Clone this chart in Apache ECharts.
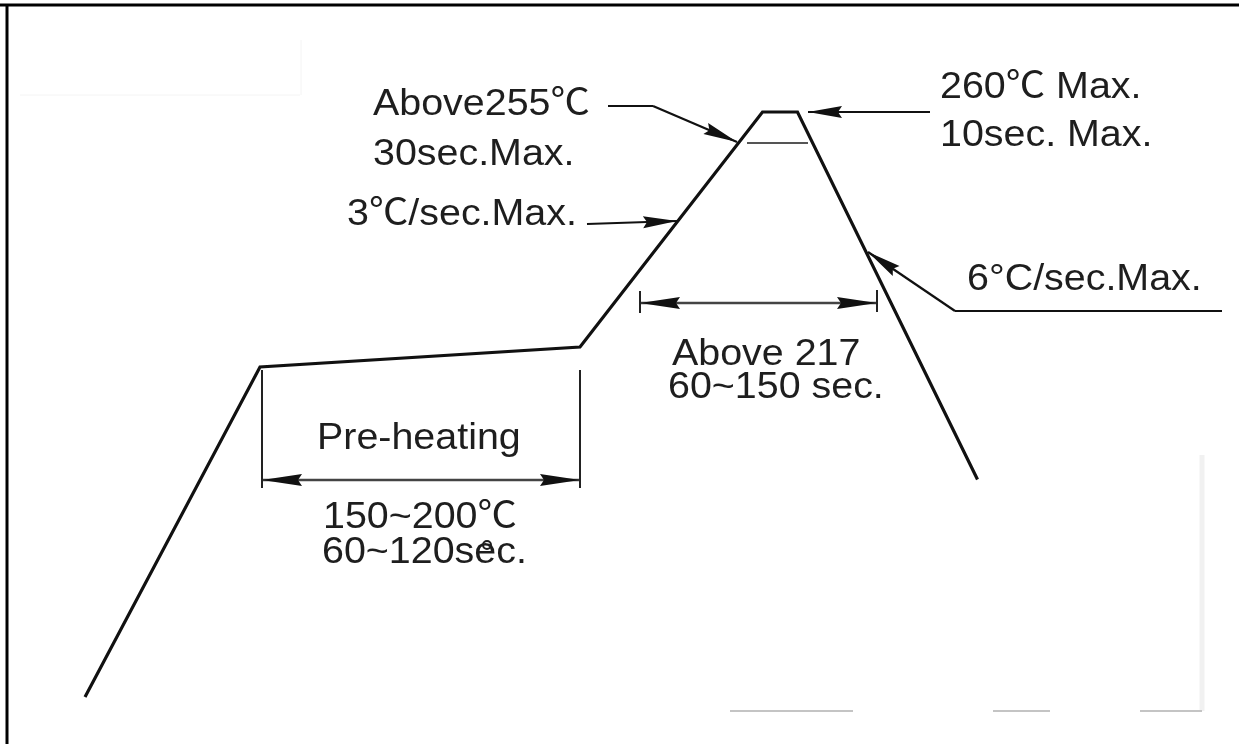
<!DOCTYPE html>
<html>
<head>
<meta charset="utf-8">
<title>Reflow profile</title>
<script src="https://cdn.jsdelivr.net/npm/echarts@6/dist/echarts.min.js"></script>
<style>
	html, body { margin: 0; padding: 0; background: #fff; }
	#chart { width: 1239px; height: 744px; }
</style>
</head>
<body>
<div id="chart"></div>
<script>
/**
 * 数据 (示意图, 单位: 时间 / 温度, 非等比例)
 */
// 回流焊温度曲线
var profileTime = [0, 70, 198, 271, 285, 357];
var profileTemp = [26, 158, 166, 260, 260, 113];

// 引线(黑色)  [x1, y1, x2, y2, 起点箭头, 终点箭头]
var leaderLines = [
	[209.2, 262.4, 227.2, 262.4, 0, 0],// Above255
	[227.2, 262.4, 260.8, 248.0, 0, 1],
	[338.0, 260.0, 289.2, 260.0, 0, 1],// 260 Max
	[200.8, 215.2, 236.8, 216.4, 0, 1],// 3/sec
	[454.8, 180.4, 348.0, 180.4, 0, 0],// 6/sec
	[348.0, 180.4, 313.2, 204.0, 0, 1]
];
// 尺寸线(双箭头)
var dimLines = [
	[222.0, 183.6, 316.8, 183.6, 1, 1],// Above 217
	[70.8, 112.8, 198.0, 112.8, 1, 1]// Pre-heating
];
// 尺寸界线
var tickLines = [
	[222.0, 188.4, 222.0, 179.6, 0, 0],
	[316.8, 188.8, 316.8, 180.0, 0, 0],
	[70.8, 156.8, 70.8, 109.6, 0, 0],
	[198.0, 156.8, 198.0, 109.6, 0, 0]
];
// 峰值处短线
var peakLines = [
	[264.8, 247.6, 289.2, 247.6, 0, 0]
];

// 文字
var labelTexts = [
	'Above255℃', '30sec.Max.', '3℃/sec.Max.',
	'260℃ Max.', '10sec. Max.', '6°C/sec.Max.',
	'Above 217', '60~150 sec.',
	'Pre-heating', '150~200℃', '60~120sec.'
];

var FONT = '"Liberation Sans", Arial, "Noto Sans CJK SC", sans-serif';
var FONT_SIZE = 37;

/**
 * 线段 + 箭头
 */
function segmentRenderer(color, width, headLen, headHalf, headColor) {
	return function (params, api) {
		var p1 = api.coord([api.value(0), api.value(1)]);
		var p2 = api.coord([api.value(2), api.value(3)]);
		var children = [{
			type: 'line',
			shape: {x1: p1[0], y1: p1[1], x2: p2[0], y2: p2[1]},
			style: {stroke: color, lineWidth: width, lineCap: 'butt'}
		}];
		function head(tip, from) {
			var dx = tip[0] - from[0], dy = tip[1] - from[1];
			var len = Math.sqrt(dx * dx + dy * dy) || 1;
			dx /= len; dy /= len;
			var bx = tip[0] - dx * headLen, by = tip[1] - dy * headLen;
			var nx = -dy * headHalf, ny = dx * headHalf;
			children.push({
				type: 'polygon',
				shape: {points: [[tip[0], tip[1]], [bx + nx, by + ny], [bx + dx * 4, by + dy * 4], [bx - nx, by - ny]]},
				style: {fill: headColor || color}
			});
		}
		if (api.value(4)) head(p1, p2);
		if (api.value(5)) head(p2, p1);
		return {type: 'group', children: children};
	};
}

// 文字位置 (左, 基线)
var textPos = [
	[373, 117], [373, 167], [347, 227],
	[940, 100], [940, 148], [967, 292],
	[672, 367], [668, 400],
	[317, 451], [323, 530], [322, 565]
];

var graphics = [];
// 边框(上, 左)
graphics.push({type: 'line', shape: {x1: 0, y1: 5, x2: 1239, y2: 5}, style: {stroke: '#000', lineWidth: 3}});
graphics.push({type: 'line', shape: {x1: 7, y1: 4, x2: 7, y2: 744}, style: {stroke: '#000', lineWidth: 3}});
// 扫描残影
graphics.push({type: 'line', shape: {x1: 20, y1: 95, x2: 300, y2: 95}, style: {stroke: '#f4f4f4', lineWidth: 1}});
graphics.push({type: 'line', shape: {x1: 301, y1: 40, x2: 301, y2: 95}, style: {stroke: '#f4f4f4', lineWidth: 1}});
graphics.push({type: 'line', shape: {x1: 1202, y1: 455, x2: 1202, y2: 711}, style: {stroke: '#f1f1f1', lineWidth: 5}});
graphics.push({type: 'line', shape: {x1: 730, y1: 711, x2: 853, y2: 711}, style: {stroke: '#c4c4c4', lineWidth: 2}});
graphics.push({type: 'line', shape: {x1: 993, y1: 711, x2: 1050, y2: 711}, style: {stroke: '#c4c4c4', lineWidth: 2}});
graphics.push({type: 'line', shape: {x1: 1140, y1: 711, x2: 1202, y2: 711}, style: {stroke: '#c4c4c4', lineWidth: 2}});

for (var i = 0; i < labelTexts.length; i++) {
	graphics.push({
		type: 'text',
		x: textPos[i][0],
		y: textPos[i][1] - 12,
		scaleX: 1.065,
		style: {
			text: labelTexts[i],
			fontSize: FONT_SIZE,
			fontFamily: FONT,
			fill: '#1e1e1e',
			align: 'left',
			verticalAlign: 'middle'
		}
	});
}
// sec 上的小圆圈
graphics.push({
	type: 'circle',
	shape: {cx: 487, cy: 545, r: 4},
	style: {fill: 'none', stroke: '#1e1e1e', lineWidth: 2}
});

var chart = echarts.init(document.getElementById('chart'));
var option = {
	animation: false,
	backgroundColor: '#fff',
	grid: {left: 85, right: 4, top: 12, bottom: 32},
	xAxis: {type: 'value', min: 0, max: 460, show: false},
	yAxis: {type: 'value', min: 20, max: 300, show: false},
	series: [
		{
			type: 'line',
			data: profileTime.map(function (t, k) { return [t, profileTemp[k]]; }),
			symbol: 'none',
			lineStyle: {color: '#111', width: 3.2, join: 'miter'},
			silent: true
		},
		{
			type: 'custom', clip: false, silent: true,
			renderItem: segmentRenderer('#111', 2.2, 34, 6),
			data: leaderLines
		},
		{
			type: 'custom', clip: false, silent: true,
			renderItem: segmentRenderer('#444', 2.6, 40, 6, '#111'),
			data: dimLines
		},
		{
			type: 'custom', clip: false, silent: true,
			renderItem: segmentRenderer('#222', 2, 0, 0),
			data: tickLines
		},
		{
			type: 'custom', clip: false, silent: true,
			renderItem: segmentRenderer('#555', 2, 0, 0),
			data: peakLines
		}
	],
	graphic: graphics
};
chart.setOption(option);
</script>
</body>
</html>
